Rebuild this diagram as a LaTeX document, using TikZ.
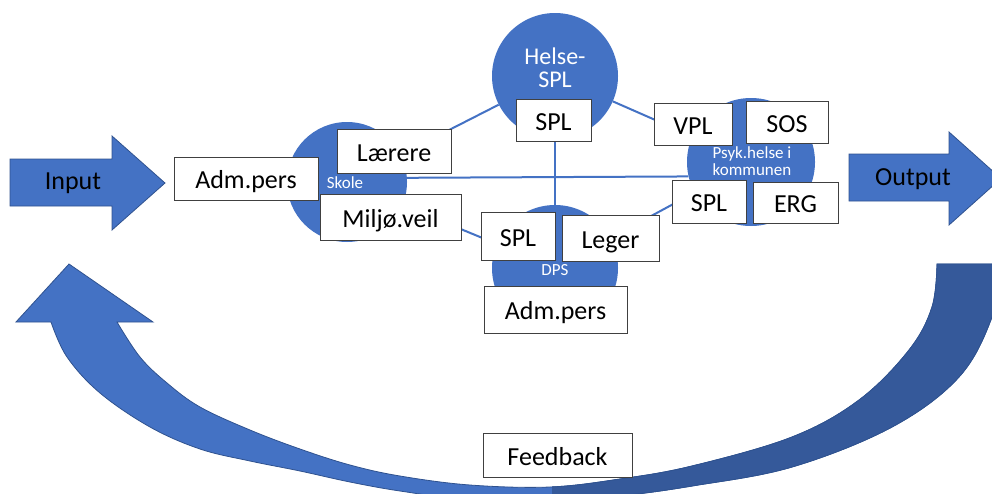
\documentclass[tikz,border=0pt]{standalone}
\usepackage{fontspec}
\setmainfont{Carlito}
\definecolor{ablue}{HTML}{4472C4}
\definecolor{aedge}{HTML}{2F528F}
\definecolor{adark}{HTML}{35599A}
\definecolor{boxgray}{HTML}{404040}
\begin{document}
\begin{tikzpicture}[x=1pt,y=-1pt,
  box/.style={draw=boxgray, fill=white, line width=1pt, inner sep=0pt,
    font=\fontsize{26}{30}\selectfont, text height=22pt, text depth=2pt},
  disc/.style={circle, fill=ablue, inner sep=0pt},
  link/.style={draw=ablue, line width=2pt},
  wlabel/.style={text=white, inner sep=0pt, align=center},
  bigarrow/.style={fill=ablue, draw=aedge, line width=0.8pt, line join=miter},
  arrowtext/.style={inner sep=0pt, font=\fontsize{26}{30}\selectfont}
]
\useasboundingbox (0,0) rectangle (992,493);
\clip (0,0) rectangle (992,493);

% feedback band (light, with arrow head)
\path[bigarrow] (153,322) -- (117,322)
  -- plot[smooth, tension=0.6] coordinates {(117,322) (140,357) (167,383) (200,407) (250,430) (300,449) (350,465) (400,476) (470,485) (550,487) (620,479) (692,466) (792,437) (859,400) (909,350) (932,307) (937,264)}
  -- (1002,264)
  -- plot[smooth, tension=0.6] coordinates {(1002,264) (992,317) (959,377) (892,427) (792,467) (692,486) (620,496) (550,502) (470,500) (400,491) (350,482) (300,471) (250,461) (200,449) (150,427) (100,393) (67,357) (51,322)}
  -- (16,322) -- (69,264) -- cycle;
% darker tail part
\begin{scope}
\clip (552,250) rectangle (1010,520);
\path[fill=adark, draw=aedge, line width=0.8pt] (117,322)
  -- plot[smooth, tension=0.6] coordinates {(117,322) (140,357) (167,383) (200,407) (250,430) (300,449) (350,465) (400,476) (470,485) (550,487) (620,479) (692,466) (792,437) (859,400) (909,350) (932,307) (937,264)}
  -- (1002,264)
  -- plot[smooth, tension=0.6] coordinates {(1002,264) (992,317) (959,377) (892,427) (792,467) (692,486) (620,496) (550,502) (470,500) (400,491) (350,482) (300,471) (250,461) (200,449) (150,427) (100,393) (67,357) (51,322)}
  -- cycle;
\end{scope}

% input / output arrows
\path[bigarrow] (10,159) -- (112,159) -- (112,136) -- (165,183) -- (112,230) -- (112,206) -- (10,206) -- cycle;
\node[arrowtext] (inputlbl) at (73,183) {Input};
\path[bigarrow] (849,154) -- (949,154) -- (949,132) -- (1001,178.5) -- (949,225) -- (949,201) -- (849,201) -- cycle;
\node[arrowtext] (outputlbl) at (913,179) {Output};

% circles
\node[disc, minimum size=126pt] (helse) at (555,76) {};
\node[disc, minimum size=120pt] (skole) at (347,182) {};
\node[disc, minimum size=128pt] (psyk) at (751,162) {};
\node[disc, minimum size=126pt] (dps) at (555,268) {};

% links
\draw[link] (helse) -- (skole);
\draw[link] (helse) -- (psyk);
\draw[link] (helse) -- (dps);
\draw[link] (skole) -- (dps);
\draw[link] (dps) -- (psyk);
\draw[link] (skole.4) -- (psyk.193);

% circle labels
\node[wlabel, font=\fontsize{24}{23}\selectfont] (helselbl) at (555,68) {Helse-\\SPL};
\node[wlabel, font=\fontsize{17}{17}\selectfont] (skolelbl) at (345,183) {Skole};
\node[wlabel, font=\fontsize{17}{17}\selectfont] (psyklbl) at (752,161.5) {Psyk.helse i\\kommunen};
\node[wlabel, font=\fontsize{17}{17}\selectfont] (dpslbl) at (555,270) {DPS};

% boxes
\node[box, minimum width=144pt, minimum height=43pt] (admL) at (246,178.5) {Adm.pers};
\node[box, minimum width=114pt, minimum height=44pt] (laerere) at (394,151) {Lærere};
\node[box, minimum width=141pt, minimum height=46pt] (miljo) at (390.5,217) {Miljø.veil};
\node[box, minimum width=75pt, minimum height=42pt] (splH) at (553.5,120) {SPL};
\node[box, minimum width=78pt, minimum height=42pt] (vpl) at (693,124) {VPL};
\node[box, minimum width=82pt, minimum height=42pt] (sos) at (787,122) {SOS};
\node[box, minimum width=74pt, minimum height=43pt] (splP) at (709,201.5) {SPL};
\node[box, minimum width=85pt, minimum height=41pt] (erg) at (795.5,202.5) {ERG};
\node[box, minimum width=74pt, minimum height=48pt] (splD) at (518,236) {SPL};
\node[box, minimum width=97pt, minimum height=46pt] (leger) at (610.5,238) {Leger};
\node[box, minimum width=143pt, minimum height=47pt] (admD) at (555.5,309.5) {Adm.pers};
\node[box, minimum width=149pt, minimum height=44pt] (feedback) at (557.5,455) {Feedback};
\end{tikzpicture}
\end{document}
